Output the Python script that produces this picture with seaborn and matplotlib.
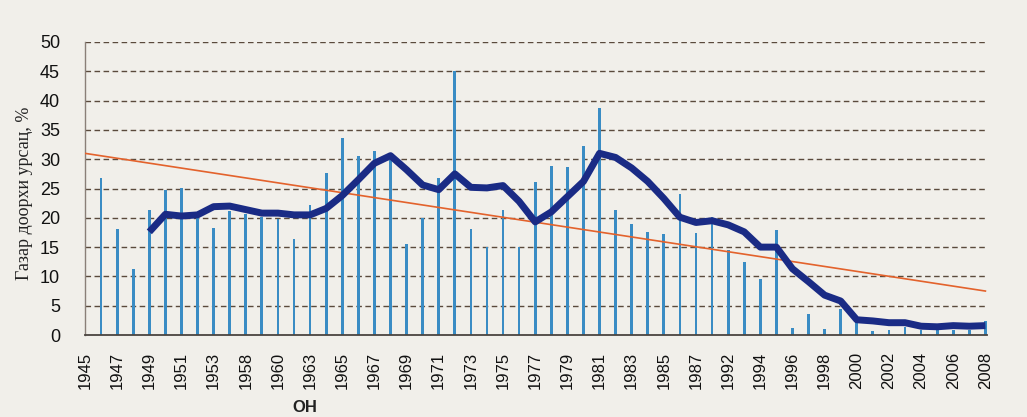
import matplotlib
matplotlib.use("Agg")
import matplotlib.pyplot as plt
import numpy as np
import pandas as pd
import seaborn as sns

# categories (one per bar); every second one is labelled on the axis
years = ["1945", "1946", "1947", "1948", "1949", "1950", "1951", "1952", "1953", "1957",
         "1958", "1959", "1960", "1962", "1963", "1964", "1965", "1966", "1967", "1968",
         "1969", "1970", "1971", "1972", "1973", "1974", "1975", "1976", "1977", "1978",
         "1979", "1980", "1981", "1982", "1983", "1984", "1985", "1986", "1987", "1991",
         "1992", "1993", "1994", "1995", "1996", "1997", "1998", "1999", "2000", "2001",
         "2002", "2003", "2004", "2005", "2006", "2007", "2008"]

# underground runoff share, % (bars)
runoff = [np.nan, 26.8, 18.1, 11.3, 21.4, 24.7, 25.1, 20.0, 18.2, 21.2,
          20.7, 20.1, 19.8, 16.4, 22.2, 27.6, 33.6, 30.5, 31.4, 29.8,
          15.5, 19.9, 26.8, 45.0, 18.1, 15.0, 21.3, 15.0, 26.1, 28.8,
          28.7, 32.3, 38.7, 21.3, 18.9, 17.5, 17.3, 24.1, 17.4, 20.1,
          14.5, 12.4, 9.5, 18.0, 1.2, 3.5, 1.0, 4.5, 2.8, 0.6,
          0.9, 1.3, 0.8, 0.8, 0.9, 0.9, 2.4]

# moving average (thick line)
smooth = [np.nan, np.nan, np.nan, np.nan, 17.6, 20.6, 20.3, 20.5, 21.9, 22.0,
          21.4, 20.8, 20.8, 20.5, 20.5, 21.6, 23.8, 26.5, 29.3, 30.6,
          28.2, 25.6, 24.8, 27.5, 25.2, 25.1, 25.5, 22.8, 19.3, 21.0,
          23.6, 26.2, 31.0, 30.3, 28.5, 26.2, 23.3, 20.1, 19.2, 19.5,
          18.8, 17.6, 15.0, 15.0, 11.3, 9.1, 6.8, 5.8, 2.6, 2.4,
          2.1, 2.1, 1.5, 1.4, 1.6, 1.5, 1.6]

# linear trend end values (first and last category)
trend_start = 31.0
trend_end = 7.5

df = pd.DataFrame({"pos": np.arange(len(years)), "year": years,
                   "runoff": runoff, "smooth": smooth})

bg = "#f1efea"
fig = plt.figure(figsize=(10.27, 4.17), dpi=100, facecolor=bg)
ax = fig.add_axes([85 / 1027, 1 - 335 / 417, 902 / 1027, 293 / 417])
ax.set_facecolor(bg)

for v in range(5, 51, 5):
    ax.axhline(v, color="#5a4a3c", lw=1.0, ls=(0, (4, 2.5)), zorder=0)

sns.barplot(data=df.dropna(subset=["runoff"]), x="pos", y="runoff", native_scale=True,
            width=0.17, color="#3a8cc4", saturation=1, ax=ax, zorder=2)

sns.lineplot(x=[0, len(years) - 1], y=[trend_start, trend_end], color="#e3622c",
             lw=1.2, ax=ax, zorder=3)

sns.lineplot(data=df.dropna(subset=["smooth"]), x="pos", y="smooth", color="#1a2b85",
             lw=5, ax=ax, zorder=4, solid_joinstyle="round", solid_capstyle="butt")

ax.set_xlim(0, len(years) - 1 + 0.1)
ax.set_ylim(0, 50)
ax.set_yticks(range(0, 51, 5))
ax.set_xticks(df["pos"][::2])
ax.set_xticklabels(years[::2], rotation=90, fontsize=12, family="Liberation Sans")
for t in ax.get_yticklabels():
    t.set_family("Liberation Sans")
    t.set_fontsize(13)
ax.tick_params(axis="x", length=0, pad=12, colors="#111111")
ax.tick_params(axis="y", length=0, pad=18, colors="#111111")
ax.set_xlabel("")
ax.set_ylabel("")

for s in ["top", "right"]:
    ax.spines[s].set_visible(False)
ax.spines["left"].set_color("#8a7f78")
ax.spines["left"].set_linewidth(1.0)
ax.spines["bottom"].set_color("#4a4440")
ax.spines["bottom"].set_linewidth(1.3)

fig.text(25 / 1027, 1 - 193 / 417, "Газар доорхи урсац, %", rotation=90,
         ha="center", va="center", fontsize=13, family="Liberation Serif",
         color="#222222")
fig.text(305 / 1027, 1 - 400 / 417, "ОН", ha="center", va="top", fontsize=12,
         fontweight="bold", family="Liberation Sans", color="#222222")

fig.savefig("out.png", dpi=100, facecolor=bg)
